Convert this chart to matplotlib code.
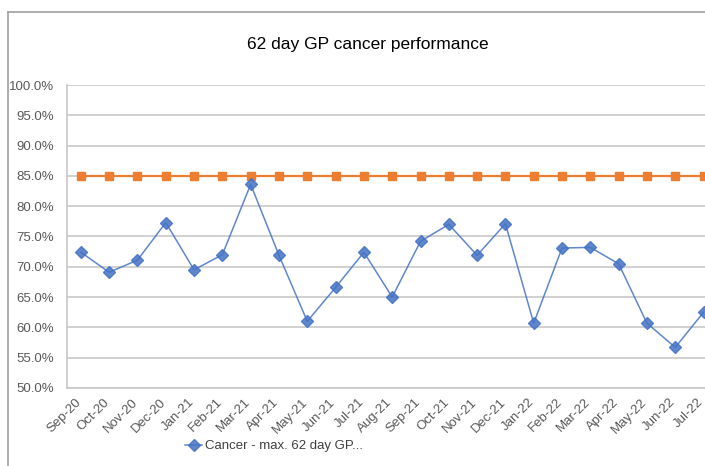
import matplotlib.pyplot as plt
from matplotlib.lines import Line2D
from matplotlib.transforms import ScaledTranslation

months = ["Sep-20", "Oct-20", "Nov-20", "Dec-20", "Jan-21", "Feb-21", "Mar-21", "Apr-21",
          "May-21", "Jun-21", "Jul-21", "Aug-21", "Sep-21", "Oct-21", "Nov-21", "Dec-21",
          "Jan-22", "Feb-22", "Mar-22", "Apr-22", "May-22", "Jun-22", "Jul-22"]
performance = [72.4, 69.1, 71.1, 77.3, 69.5, 72.0, 83.6, 71.9, 61.0, 66.6, 72.4, 65.0,
               74.2, 77.0, 71.9, 77.1, 60.7, 73.1, 73.2, 70.5, 60.7, 56.7, 62.5]
target = [85.0] * len(months)
yticks = [50, 55, 60, 65, 70, 75, 80, 85, 90, 95, 100]

plt.rcParams['font.family'] = ['Liberation Sans', 'DejaVu Sans']

fig = plt.figure(figsize=(7.05, 4.66), dpi=100)
ax = fig.add_axes([66.7 / 705, 78 / 466, 651 / 705, 303 / 466])

x = list(range(len(months)))
ax.plot(x, target, color="#ED7D31", lw=1.6, marker="s", ms=5.5, zorder=3)
line, = ax.plot(x, performance, color="#4472C4", lw=1.1, alpha=0.85, marker="D", ms=6,
                markerfacecolor="#4472C4", markeredgecolor="#4472C4", zorder=4,
                label="Cancer - max. 62 day GP...")

ax.set_xlim(-0.5, len(months) - 0.5)
ax.set_ylim(50, 100)
ax.set_yticks(yticks)
ax.set_yticklabels([f"{v:.1f}%" for v in yticks], fontsize=9.5, color="#595959")
ax.set_xticks(x)
ax.set_xticklabels(months, rotation=45, ha="right", rotation_mode="anchor",
                   fontsize=9.5, color="#595959")
ax.tick_params(axis="y", length=0, pad=9)
ax.tick_params(axis="x", length=0, pad=6)
shift = ScaledTranslation(-6 / 100, 0, fig.dpi_scale_trans)
for lab in ax.get_xticklabels():
    lab.set_transform(lab.get_transform() + shift)
ax.grid(axis="y", color="#c8c8c8", lw=1.2)
ax.set_axisbelow(True)
for s in ["top", "right"]:
    ax.spines[s].set_visible(False)
ax.spines["left"].set_color("#c8c8c8")
ax.spines["bottom"].set_color("#c8c8c8")
ax.spines["left"].set_linewidth(1.2)
ax.spines["bottom"].set_linewidth(1.2)

fig.text(368 / 705, 1 - 45 / 466, "62 day GP cancer performance", ha="center", va="center",
         fontsize=12.5, color="#000000")

fig.legend(handles=[line], loc="center", bbox_to_anchor=(274 / 705, 1 - 446 / 466),
           frameon=False, fontsize=9.5, handlelength=1.3, handletextpad=0.2,
           labelcolor="#404040")

# chart area border
fig.add_artist(Line2D([7.5 / 705, 7.5 / 705], [0, 1 - 11.5 / 466], color="#a0a0a0", lw=1.2))
fig.add_artist(Line2D([7.5 / 705, 1], [1 - 11.5 / 466, 1 - 11.5 / 466], color="#a0a0a0", lw=1.2))

fig.savefig("out.png", dpi=100)
